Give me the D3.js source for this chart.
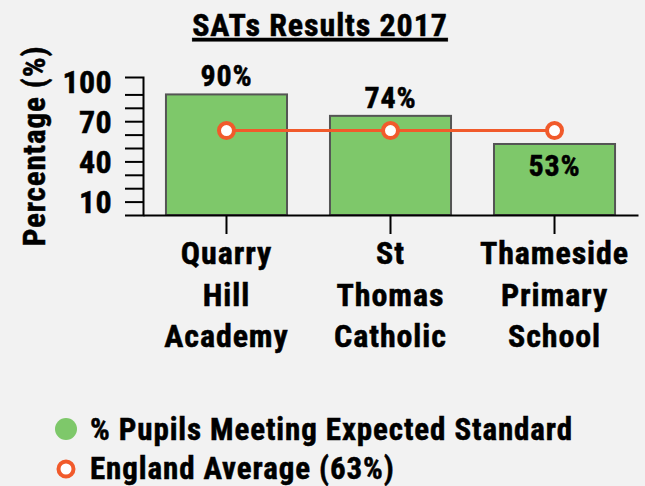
<!DOCTYPE html>
<html>
<head>
<meta charset="utf-8">
<style>
  body { margin: 0; background: #f2f2f2; }
  svg text { font-family: "Roboto Condensed", "Roboto", sans-serif; font-stretch: condensed; font-weight: 700; letter-spacing: 0.9px; fill: #000; stroke: #000; stroke-width: 0.5px; }
</style>
</head>
<body>
<svg width="645" height="486"></svg>
<script src="https://cdn.jsdelivr.net/npm/d3@7"></script>
<script>
  const schools = ["Quarry Hill Academy", "St Thomas Catholic", "Thameside Primary School"];
  const pupils = [90, 74, 53];
  const englandAvg = 63;
  const yLabels = [10, 40, 70, 100];

  const svg = d3.select("svg");
  const green = "#7ec86a", orange = "#f15a2b";

  const x = d3.scaleBand().domain(schools).range([143, 638]).paddingInner(0.262).paddingOuter(0.14);
  const y = d3.scaleLinear().domain([0, 103]).range([215, 77]);

  // title
  svg.append("text")
      .attr("x", 320).attr("y", 36)
      .attr("text-anchor", "middle")
      .style("font-size", "32px")
      .style("text-decoration", "underline")
      .text("SATs Results 2017");

  // y axis: minor ticks every 10, labels on a few
  const yAxis = svg.append("g")
      .attr("transform", "translate(143,0)")
      .call(d3.axisLeft(y).tickValues(d3.range(10, 100, 10)).tickSize(18).tickSizeOuter(18).tickFormat(""));
  yAxis.selectAll("path, line").attr("stroke", "#000").attr("stroke-width", 2);

  svg.append("g").selectAll("text")
      .data(yLabels)
      .join("text")
      .attr("x", 112)
      .attr("y", d => y(d))
      .attr("dy", "0.36em")
      .attr("text-anchor", "end")
      .style("font-size", "32px")
      .style("letter-spacing", "0.3px")
      .text(d => d);

  svg.append("text")
      .attr("transform", "translate(45,146) rotate(-90)")
      .attr("text-anchor", "middle")
      .style("font-size", "31px")
      .text("Percentage (%)");

  // bars
  svg.append("g").selectAll("rect")
      .data(pupils)
      .join("rect")
      .attr("x", (d, i) => x(schools[i]))
      .attr("y", d => y(d))
      .attr("width", x.bandwidth())
      .attr("height", d => y(0) - y(d))
      .attr("fill", green)
      .attr("stroke", "#555")
      .attr("stroke-width", 2);

  svg.append("g").selectAll("text")
      .data(pupils)
      .join("text")
      .attr("x", (d, i) => x(schools[i]) + x.bandwidth() / 2)
      .attr("y", d => d < englandAvg ? y(d) + 32 : y(d) - 8)
      .attr("text-anchor", "middle")
      .style("font-size", "30px")
      .text(d => d + "%");

  // x axis
  const xAxis = svg.append("g")
      .attr("transform", "translate(0,215)")
      .call(d3.axisBottom(x).tickSize(19).tickSizeOuter(0).tickFormat(""));
  xAxis.selectAll("path, line").attr("stroke", "#000").attr("stroke-width", 2);

  svg.append("g").selectAll("text")
      .data(schools)
      .join("text")
      .attr("x", d => x(d) + x.bandwidth() / 2)
      .attr("y", 264)
      .attr("text-anchor", "middle")
      .style("font-size", "32px")
      .each(function(d) {
        const t = d3.select(this);
        d.split(" ").forEach((w, i) => {
          t.append("tspan").attr("x", t.attr("x")).attr("dy", i ? 41.5 : 0).text(w);
        });
      });

  // england average line
  const line = d3.line().x(d => x(d) + x.bandwidth() / 2).y(() => y(englandAvg));
  svg.append("path")
      .datum(schools)
      .attr("d", line)
      .attr("fill", "none")
      .attr("stroke", orange)
      .attr("stroke-width", 3);

  svg.append("g").selectAll("circle")
      .data(schools)
      .join("circle")
      .attr("cx", d => x(d) + x.bandwidth() / 2)
      .attr("cy", y(englandAvg))
      .attr("r", 7.5)
      .attr("fill", "#fff")
      .attr("stroke", orange)
      .attr("stroke-width", 4);

  // legend
  const legend = svg.append("g");
  legend.append("circle").attr("cx", 66).attr("cy", 429).attr("r", 11).attr("fill", green);
  legend.append("text").attr("x", 90).attr("y", 440).style("font-size", "31px")
      .text("% Pupils Meeting Expected Standard");
  legend.append("circle").attr("cx", 66).attr("cy", 469).attr("r", 7.5).attr("fill", "#fff")
      .attr("stroke", orange).attr("stroke-width", 4);
  legend.append("text").attr("x", 90).attr("y", 479).style("font-size", "31px")
      .text("England Average (" + englandAvg + "%)");
</script>
</body>
</html>
